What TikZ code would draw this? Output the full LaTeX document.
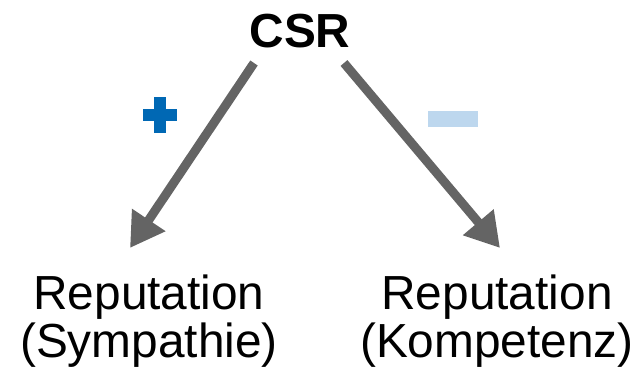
\documentclass[tikz,border=0pt]{standalone}
\usepackage{fontspec}
\setmainfont{Liberation Sans}
\usetikzlibrary{arrows.meta}
\definecolor{pfeilgrau}{RGB}{100,100,100}
\definecolor{plusblau}{RGB}{0,104,180}
\definecolor{minushell}{RGB}{189,215,238}
\tikzset{
  label/.style={font=\fontsize{34}{34}\selectfont, align=center, inner sep=0pt},
  pfeil/.style={draw=pfeilgrau, line width=6.4pt, -{Triangle[length=24pt,width=27pt]}}
}
\begin{document}
\begin{tikzpicture}[x=0.025cm, y=-0.025cm]
        \useasboundingbox (0,0) rectangle (641,374);

        % Knoten
        \node[label, font=\fontsize{34}{34}\selectfont\bfseries, anchor=base] (csr) at (300,48) {CSR};
        \node[label, anchor=north] (symp) at (149,275) {Reputation\\(Sympathie)};
        \node[label, anchor=north] (komp) at (497,275) {Reputation\\(Kompetenz)};

        % Pfeile
        \coordinate (startL) at (254,63);
        \coordinate (endL) at (130,248);
        \coordinate (startR) at (344,63);
        \coordinate (endR) at (500,248);
        \draw[pfeil] (startL) -- (endL);
        \draw[pfeil] (startR) -- (endR);

        % Vorzeichen
        \fill[plusblau] (143,109) rectangle (177,121);
        \fill[plusblau] (154,97) rectangle (166,133);
        \fill[minushell] (428,111) rectangle (478,127);
    \end{tikzpicture}
\end{document}
